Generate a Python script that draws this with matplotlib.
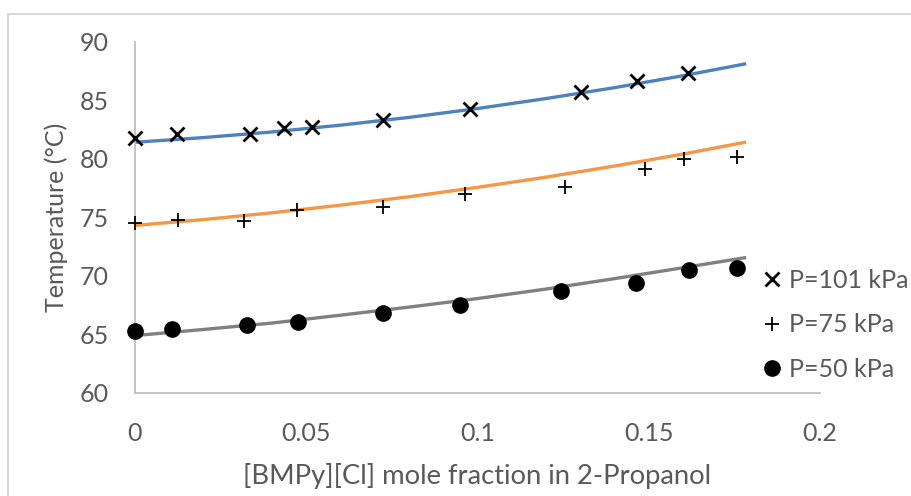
import matplotlib.pyplot as plt
from matplotlib.patches import Rectangle

# measured boiling temperatures (degC) vs IL mole fraction
x_101 = [0.0, 0.0123, 0.0336, 0.0435, 0.0517, 0.0724, 0.0978, 0.1302, 0.1467, 0.1615]
t_101 = [81.8, 82.1, 82.1, 82.6, 82.7, 83.3, 84.2, 85.7, 86.6, 87.3]

x_75 = [0.0, 0.0126, 0.0318, 0.0473, 0.0724, 0.0964, 0.1255, 0.1489, 0.1603, 0.1758]
t_75 = [74.5, 74.8, 74.7, 75.6, 75.9, 77.0, 77.6, 79.1, 80.0, 80.1]

x_50 = [0.0, 0.0108, 0.0327, 0.0476, 0.0724, 0.0949, 0.1244, 0.1463, 0.1618, 0.1758]
t_50 = [65.3, 65.5, 65.8, 66.1, 66.8, 67.5, 68.7, 69.4, 70.5, 70.7]

# model curves
x_model = [0.0, 0.02, 0.04, 0.06, 0.08, 0.10, 0.12, 0.14, 0.16, 0.178]
t_model_101 = [81.40, 81.80, 82.28, 82.86, 83.52, 84.28, 85.13, 86.06, 87.08, 88.08]
t_model_75 = [74.30, 74.80, 75.38, 76.03, 76.75, 77.55, 78.42, 79.37, 80.39, 81.39]
t_model_50 = [64.90, 65.42, 65.97, 66.64, 67.33, 68.06, 68.87, 69.76, 70.69, 71.54]

labels = ['P=101 kPa', 'P=75 kPa', 'P=50 kPa']

txt = '#595959'
plt.rcParams['font.family'] = ['Lato', 'DejaVu Sans']

fig = plt.figure(figsize=(9.12, 4.96), dpi=100)
fig.patches.append(Rectangle((8 / 912, -0.1), 1.2, 1 - 14 / 496 + 0.1, transform=fig.transFigure,
                             fill=False, edgecolor='#d9d9d9', lw=1.5))
ax = fig.add_axes([0.148, 0.2077, 0.751, 0.7086])

ax.plot(x_model, t_model_101, color='#4F81BD', lw=2.4, zorder=2)
ax.plot(x_model, t_model_75, color='#F79646', lw=2.4, zorder=2)
ax.plot(x_model, t_model_50, color='#808080', lw=2.4, zorder=2)

# markers at x=0 sit on the axis, so don't clip them
h1, = ax.plot(x_101, t_101, 'x', color='black', ms=10, mew=2.0, ls='none', zorder=3, clip_on=False)
h2, = ax.plot(x_75, t_75, '+', color='black', ms=10, mew=1.3, ls='none', zorder=3, clip_on=False)
h3, = ax.plot(x_50, t_50, 'o', color='black', ms=11, ls='none', zorder=3, clip_on=False)

ax.set_xlim(0, 0.2)
ax.set_ylim(60, 90)
ax.set_xticks([0, 0.05, 0.1, 0.15, 0.2])
ax.set_xticklabels(['0', '0.05', '0.1', '0.15', '0.2'])
ax.set_yticks([60, 65, 70, 75, 80, 85, 90])
ax.tick_params(length=0, labelsize=18, colors=txt)
ax.tick_params(axis='x', pad=21)
ax.tick_params(axis='y', pad=19)

for s in ['top', 'right']:
    ax.spines[s].set_visible(False)
for s in ['left', 'bottom']:
    ax.spines[s].set_color('#bfbfbf')
    ax.spines[s].set_linewidth(1.3)

ax.set_xlabel('[BMPy][Cl] mole fraction in 2-Propanol', fontsize=19.7, color=txt, labelpad=13)
ax.set_ylabel('Temperature (°C)', fontsize=18, color=txt, labelpad=8)

leg = ax.legend([h1, h2, h3], labels, loc='center left', bbox_to_anchor=(0.915, 0.194),
                frameon=False, fontsize=18, handlelength=0.8, handletextpad=0.3,
                labelspacing=0.85, markerscale=1.0, borderpad=0, borderaxespad=0)
for t in leg.get_texts():
    t.set_color(txt)

fig.savefig('out.png', dpi=100)
